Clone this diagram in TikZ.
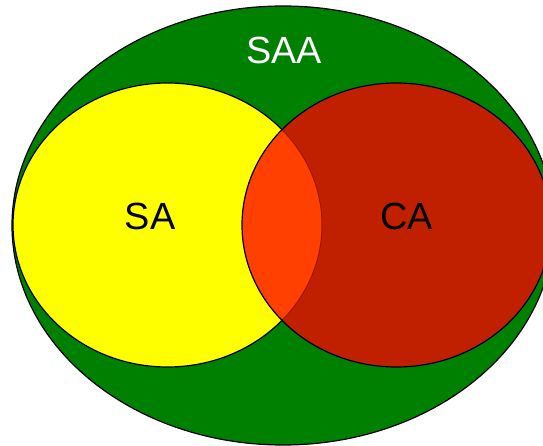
\documentclass[tikz,border=0pt]{standalone}
\usepackage{fontspec}
\setmainfont{Liberation Sans}
\definecolor{saagreen}{RGB}{0,128,0}
\definecolor{sayellow}{RGB}{255,255,0}
\definecolor{cared}{RGB}{192,32,0}
\definecolor{lensorange}{RGB}{255,64,0}
\definecolor{lensline}{RGB}{160,20,0}
\begin{document}
\begin{tikzpicture}[x=1bp,y=-1bp,
  outline/.style={draw=black,line width=1.2bp},
  lbl/.style={font=\fontsize{38}{40}\selectfont,inner sep=0pt}]
\useasboundingbox (0,0) rectangle (543,446);
\clip (0,0) rectangle (543,446);
% SAA
\fill[saagreen] (283,225.5) ellipse [x radius=271, y radius=219.5];
\draw[outline] (283,225.5) ellipse [x radius=271, y radius=219.5];
% SA
\fill[sayellow] (167.5,225) ellipse [x radius=154.5, y radius=142];
\draw[outline] (167.5,225) ellipse [x radius=154.5, y radius=142];
% CA
\fill[cared] (396.5,225) ellipse [x radius=154.5, y radius=142];
% lens
\begin{scope}
  \clip (167.5,225) ellipse [x radius=154.5, y radius=142];
  \fill[lensorange] (396.5,225) ellipse [x radius=154.5, y radius=142];
\end{scope}
\begin{scope}
  \clip (396.5,225) ellipse [x radius=154.5, y radius=142];
  \draw[draw=lensline,line width=1bp] (167.5,225) ellipse [x radius=154.5, y radius=142];
\end{scope}
\draw[outline] (396.5,225) ellipse [x radius=154.5, y radius=142];
% labels
\node[lbl,text=white] (saa) at (284,50.5) {SAA};
\node[lbl,text=black] (sa) at (150,216) {SA};
\node[lbl,text=black] (ca) at (406.5,216.5) {CA};
\end{tikzpicture}
\end{document}
